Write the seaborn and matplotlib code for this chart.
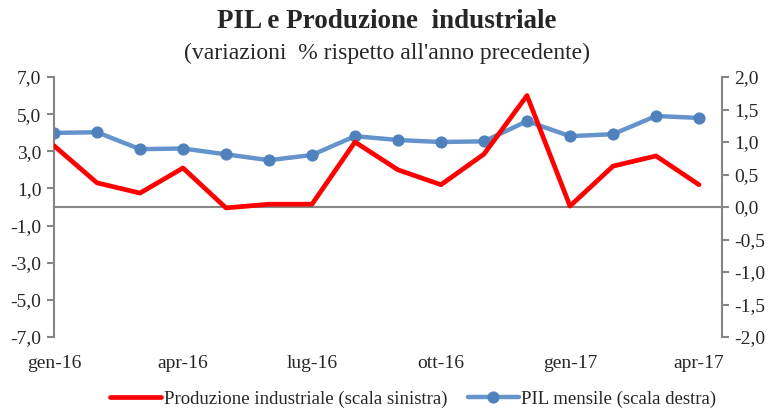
import numpy as np
import pandas as pd
import matplotlib
matplotlib.use('Agg')
import matplotlib.pyplot as plt
import matplotlib.ticker as mticker
import seaborn as sns

# data
mesi = ['gen-16', 'feb-16', 'mar-16', 'apr-16', 'mag-16', 'giu-16', 'lug-16', 'ago-16',
        'set-16', 'ott-16', 'nov-16', 'dic-16', 'gen-17', 'feb-17', 'mar-17', 'apr-17']
produzione = [3.3, 1.3, 0.75, 2.1, -0.05, 0.15, 0.15, 3.5,
              2.0, 1.2, 2.85, 6.0, 0.05, 2.2, 2.75, 1.2]
pil = [1.14, 1.15, 0.89, 0.90, 0.81, 0.72, 0.80, 1.09,
       1.03, 1.00, 1.01, 1.32, 1.09, 1.12, 1.40, 1.37]
tick_mesi = ['gen-16', 'apr-16', 'lug-16', 'ott-16', 'gen-17', 'apr-17']

df = pd.DataFrame({'pos': range(len(mesi)), 'mese': mesi,
                   'produzione': produzione, 'pil': pil})

sns.set_style('white')
plt.rcParams['font.family'] = ['Liberation Serif', 'DejaVu Serif']

grey = '#868686'
red = '#FF0000'
blue = '#6593CB'
blue_mk = '#4F81BD'

fig = plt.figure(figsize=(7.73, 4.12), dpi=100)
ax = fig.add_axes([54 / 773, 75 / 412, 668 / 773, 260 / 412])
ax2 = ax.twinx()

sns.lineplot(data=df, x='pos', y='produzione', ax=ax, color=red, linewidth=3.4,
             label='Produzione industriale (scala sinistra)', legend=False, zorder=3)
sns.lineplot(data=df, x='pos', y='pil', ax=ax2, color=blue, linewidth=3.2,
             marker='o', markersize=8, markerfacecolor=blue_mk, markeredgecolor=blue_mk,
             label='PIL mensile (scala destra)', legend=False, zorder=2)
ax.set_zorder(ax2.get_zorder() + 1)
ax.patch.set_visible(False)

ax.set_xlim(0, 668 / 43)
ax.set_ylim(-7, 7)
ax2.set_ylim(-2, 2)
ax.set_yticks(np.arange(-7, 7.1, 2))
ax2.set_yticks(np.arange(-2, 2.01, 0.5))
fmt = mticker.FuncFormatter(lambda v, p: f'{v:.1f}'.replace('.', ','))
ax.yaxis.set_major_formatter(fmt)
ax2.yaxis.set_major_formatter(fmt)

# x axis sitting on zero, labels at the bottom
idx = [mesi.index(m) for m in tick_mesi]
ax.set_xticks(idx)
ax.set_xticks(range(len(mesi)), minor=True)
ax.set_xticklabels([])
ax.spines['bottom'].set_position(('data', 0))
ax.spines['bottom'].set_color(grey)
ax.spines['bottom'].set_linewidth(1.5)
ax.tick_params(axis='x', which='major', direction='inout', length=10, width=1.5, color=grey)
ax.tick_params(axis='x', which='minor', direction='in', length=3, width=1.5, color=grey)
for i, lab in zip(idx, tick_mesi):
    ax.text(i, -0.1, lab, transform=ax.get_xaxis_transform(), ha='center', va='center',
            fontsize=14)

for a in (ax, ax2):
    a.spines['top'].set_visible(False)
    a.set_xlabel('')
    a.set_ylabel('')
ax.spines['right'].set_visible(False)
ax2.spines['bottom'].set_visible(False)
ax2.spines['left'].set_visible(False)
ax.spines['left'].set_color(grey)
ax.spines['left'].set_linewidth(1.5)
ax2.spines['right'].set_color(grey)
ax2.spines['right'].set_linewidth(1.5)
ax.tick_params(axis='y', direction='out', length=5, width=1.5, color=grey, labelsize=14, pad=4)
ax2.tick_params(axis='y', direction='out', length=5, width=1.5, color=grey, labelsize=14, pad=4)

fig.text(0.5, 1 - 22 / 412, 'PIL e Produzione  industriale', ha='center', va='center',
         fontsize=19.5, fontweight='bold')
fig.text(0.5, 1 - 53 / 412, "(variazioni  % rispetto all'anno precedente)", ha='center',
         va='center', fontsize=17)

h1, l1 = ax.get_legend_handles_labels()
h2, l2 = ax2.get_legend_handles_labels()
fig.legend(h1 + h2, l1 + l2, loc='center', bbox_to_anchor=(0.535, 1 - 399 / 412), ncol=2,
           frameon=False, fontsize=13.5, handlelength=2.7, handletextpad=0.15,
           columnspacing=1.1)

fig.savefig('out.png', dpi=100)
